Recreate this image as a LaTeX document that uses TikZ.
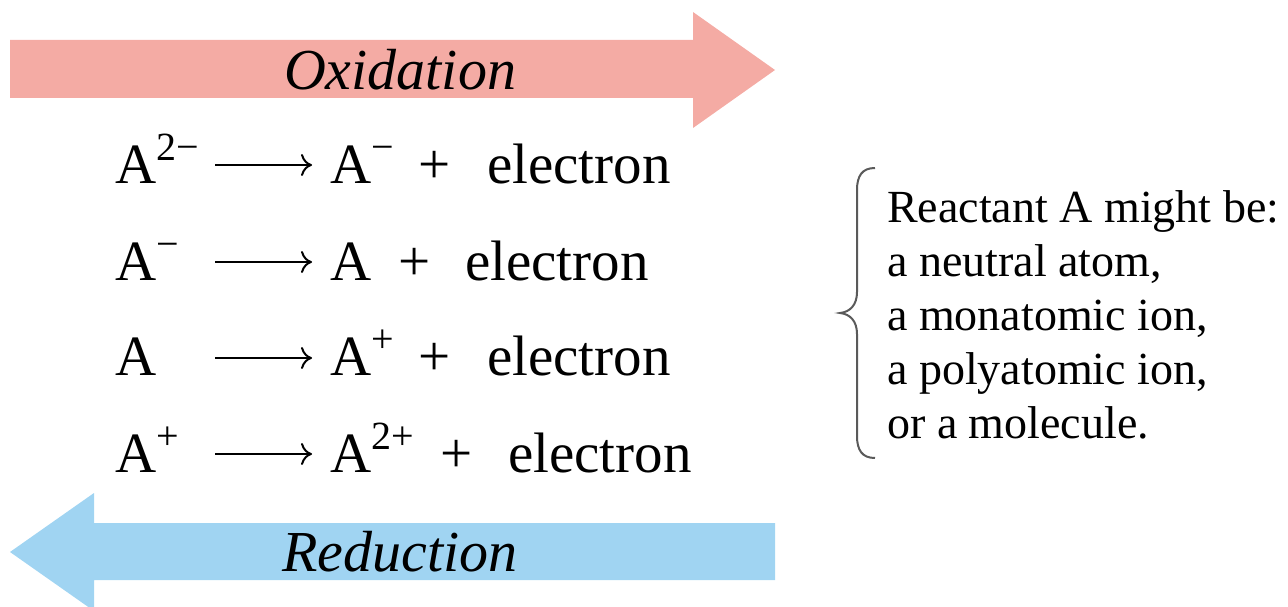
\documentclass[tikz,border=0pt]{standalone}
\usepackage{fontspec}
\setmainfont{Liberation Serif}
\usetikzlibrary{arrows.meta}
\definecolor{oxpink}{RGB}{244,171,164}
\definecolor{redblue}{RGB}{160,212,242}
\definecolor{bracegrey}{RGB}{90,90,90}
\newcommand\chsup[1]{\raisebox{0.40em}{\fontsize{40}{42}\selectfont #1}}
\begin{document}
\begin{tikzpicture}[x=1pt,y=-1pt,
  eq/.style={anchor=base west,inner sep=0pt,font=\fontsize{57}{60}\selectfont},
  label/.style={anchor=center,inner sep=0pt,font=\fontsize{58}{64}\selectfont\itshape},
  note/.style={anchor=base west,inner sep=0pt,font=\fontsize{46}{54}\selectfont},
  rxn/.style={line width=2pt,-{To[length=11pt,width=22pt,line width=2pt]}}
]
\useasboundingbox (0,0) rectangle (1288,607);
% Oxidation arrow
\fill[oxpink] (10,40) -- (693,40) -- (693,12) -- (775,70) -- (693,128) -- (693,98) -- (10,98) -- cycle;
\node[label] (ox) at (400,70) {Oxidation};
% Reduction arrow
\fill[redblue] (775,523) -- (94,523) -- (94,493) -- (10,552) -- (94,611) -- (94,580) -- (775,580) -- cycle;
\node[label] (red) at (400,552) {Reduction};
% Row 1
\node[eq] (r1a) at (115,183) {A\chsup{2−}};
\coordinate (r1s) at (215,165); \coordinate (r1e) at (312,165);
\draw[rxn] (r1s) -- (r1e);
\node[eq] (r1b) at (330,183) {A\chsup{−}};
\node[eq] (r1p) at (418,183) {+};
\node[eq] (r1c) at (487,183) {electron};
% Row 2
\node[eq] (r2a) at (115,280) {A\chsup{−}};
\coordinate (r2s) at (215,262); \coordinate (r2e) at (312,262);
\draw[rxn] (r2s) -- (r2e);
\node[eq] (r2b) at (330,280) {A};
\node[eq] (r2p) at (398,280) {+};
\node[eq] (r2c) at (465,280) {electron};
% Row 3
\node[eq] (r3a) at (115,375) {A};
\coordinate (r3s) at (215,358); \coordinate (r3e) at (312,358);
\draw[rxn] (r3s) -- (r3e);
\node[eq] (r3b) at (330,375) {A\chsup{+}};
\node[eq] (r3p) at (418,375) {+};
\node[eq] (r3c) at (487,375) {electron};
% Row 4
\node[eq] (r4a) at (115,472) {A\chsup{+}};
\coordinate (r4s) at (215,454); \coordinate (r4e) at (312,454);
\draw[rxn] (r4s) -- (r4e);
\node[eq] (r4b) at (330,472) {A\chsup{2+}};
\node[eq] (r4p) at (440,472) {+};
\node[eq] (r4c) at (508,472) {electron};
% Brace
\draw[bracegrey,line width=2pt] (875,168) .. controls (862,168) and (857,176) .. (857,190)
  -- (857,292) .. controls (857,305) and (850,312) .. (840,313)
  .. controls (850,314) and (857,321) .. (857,334)
  -- (857,436) .. controls (857,450) and (862,458) .. (875,458);
% Note
\node[note] (n1) at (887,222) {Reactant A might be:};
\node[note] (n2) at (887,276) {a neutral atom,};
\node[note] (n3) at (887,330) {a monatomic ion,};
\node[note] (n4) at (887,384) {a polyatomic ion,};
\node[note] (n5) at (887,438) {or a molecule.};
\end{tikzpicture}
\end{document}
